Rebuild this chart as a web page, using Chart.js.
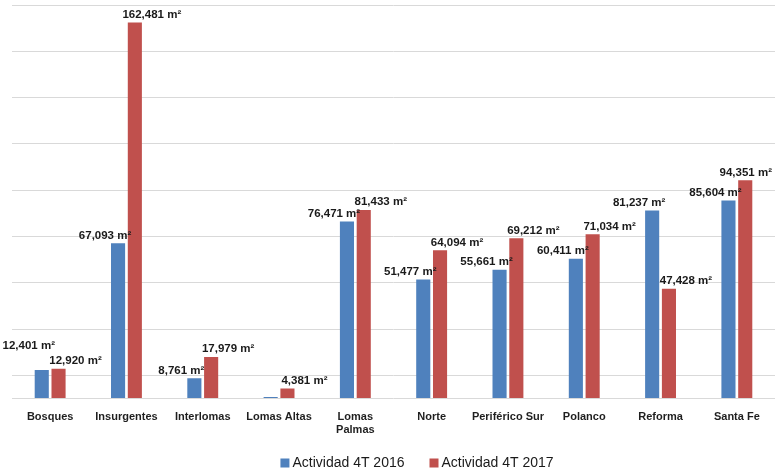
<!DOCTYPE html>
<html>
<head>
<meta charset="utf-8">
<script src="https://cdn.jsdelivr.net/npm/chart.js@4"></script>
<style>
  html, body { margin: 0; padding: 0; background: #fff; }
  #wrap { width: 780px; height: 475px; }
</style>
</head>
<body>
<div id="wrap"><canvas id="chart"></canvas></div>
<script>
// Datos
const zonas = ['Bosques', 'Insurgentes', 'Interlomas', 'Lomas Altas', ['Lomas', 'Palmas'], 'Norte', 'Periférico Sur', 'Polanco', 'Reforma', 'Santa Fe'];
const actividad2016 = [12401, 67093, 8761, 700, 76471, 51477, 55661, 60411, 81237, 85604];
const actividad2017 = [12920, 162481, 17979, 4381, 81433, 64094, 69212, 71034, 47428, 94351];
const gridTicks = [0, 10000, 30000, 50000, 70000, 90000, 110000, 130000, 150000, 170000];

const AZUL = '#4f81bd';
const ROJO = '#c0504d';
const FUENTE = '"Liberation Sans", Arial, sans-serif';

// etiquetas de valor encima de cada barra
const etiquetasPlugin = {
    id: 'etiquetas',
    afterDatasetsDraw(chart) {
        const ctx = chart.ctx;
        ctx.save();
        ctx.font = 'bold 11.5px ' + FUENTE;
        ctx.fillStyle = '#1a1a1a';
        ctx.textAlign = 'center';
        ctx.textBaseline = 'bottom';
        const metaA = chart.getDatasetMeta(0).data;
        const metaB = chart.getDatasetMeta(1).data;
        chart.data.labels.forEach((_, j) => {
            const txtA = actividad2016[j].toLocaleString('en-US') + ' m²';
            const txtB = actividad2017[j].toLocaleString('en-US') + ' m²';
            const wA = ctx.measureText(txtA).width;
            const wB = ctx.measureText(txtB).width;
            let xA = metaA[j].x - 13, yA = metaA[j].y - 2;
            let xB = metaB[j].x + 17, yB = metaB[j].y - 2;
            // que no se salga por la derecha
            xB = Math.min(xB, chart.width - 8 - wB / 2);
            // si chocan, subir la etiqueta azul
            if (Math.abs(yA - yB) < 8 && xA + wA / 2 > xB - wB / 2) yA = yB - 15;
            if (actividad2016[j] >= 1000) ctx.fillText(txtA, xA, yA);
            ctx.fillText(txtB, xB, yB);
        });
        ctx.restore();
    }
};

// leyenda inferior
const leyendaPlugin = {
    id: 'leyenda',
    afterDraw(chart) {
        const ctx = chart.ctx;
        const ds = chart.data.datasets;
        ctx.save();
        ctx.font = '14px ' + FUENTE;
        ctx.textBaseline = 'middle';
        const caja = 9, sep = 3, hueco = 25;
        const anchos = ds.map(d => ctx.measureText(d.label).width);
        const total = anchos.reduce((a, w) => a + caja + sep + w, 0) + hueco * (ds.length - 1);
        let x = 417 - total / 2;
        const y = 463;
        ds.forEach((d, i) => {
            ctx.fillStyle = d.backgroundColor;
            ctx.fillRect(x, y - caja / 2, caja, caja);
            ctx.fillStyle = '#1a1a1a';
            ctx.fillText(d.label, x + caja + sep, y);
            x += caja + sep + anchos[i] + hueco;
        });
        ctx.restore();
    }
};

const ctx = document.getElementById('chart').getContext('2d');
new Chart(ctx, {
    type: 'bar',
    data: {
        labels: zonas,
        datasets: [
            { label: 'Actividad 4T 2016', data: actividad2016, backgroundColor: AZUL },
            { label: 'Actividad 4T 2017', data: actividad2017, backgroundColor: ROJO }
        ]
    },
    options: {
        responsive: true,
        maintainAspectRatio: false,
        animation: false,
        datasets: { bar: { categoryPercentage: 0.44, barPercentage: 0.84 } },
        layout: { padding: { top: 5, left: 12, right: 5, bottom: 26 } },
        scales: {
            x: {
                grid: { display: false, drawTicks: false },
                border: { display: false },
                ticks: {
                    color: '#1f1f1f',
                    padding: 12,
                    maxRotation: 0,
                    autoSkip: false,
                    font: { family: FUENTE, size: 11, weight: 'bold' }
                }
            },
            y: {
                min: 0,
                max: 170000,
                afterBuildTicks: axis => { axis.ticks = gridTicks.map(v => ({ value: v })); },
                grid: { color: '#d9d9d9', lineWidth: 1, drawTicks: false },
                border: { display: false },
                ticks: { display: false }
            }
        },
        plugins: {
            legend: { display: false },
            tooltip: { enabled: false }
        }
    },
    plugins: [etiquetasPlugin, leyendaPlugin]
});
</script>
</body>
</html>
